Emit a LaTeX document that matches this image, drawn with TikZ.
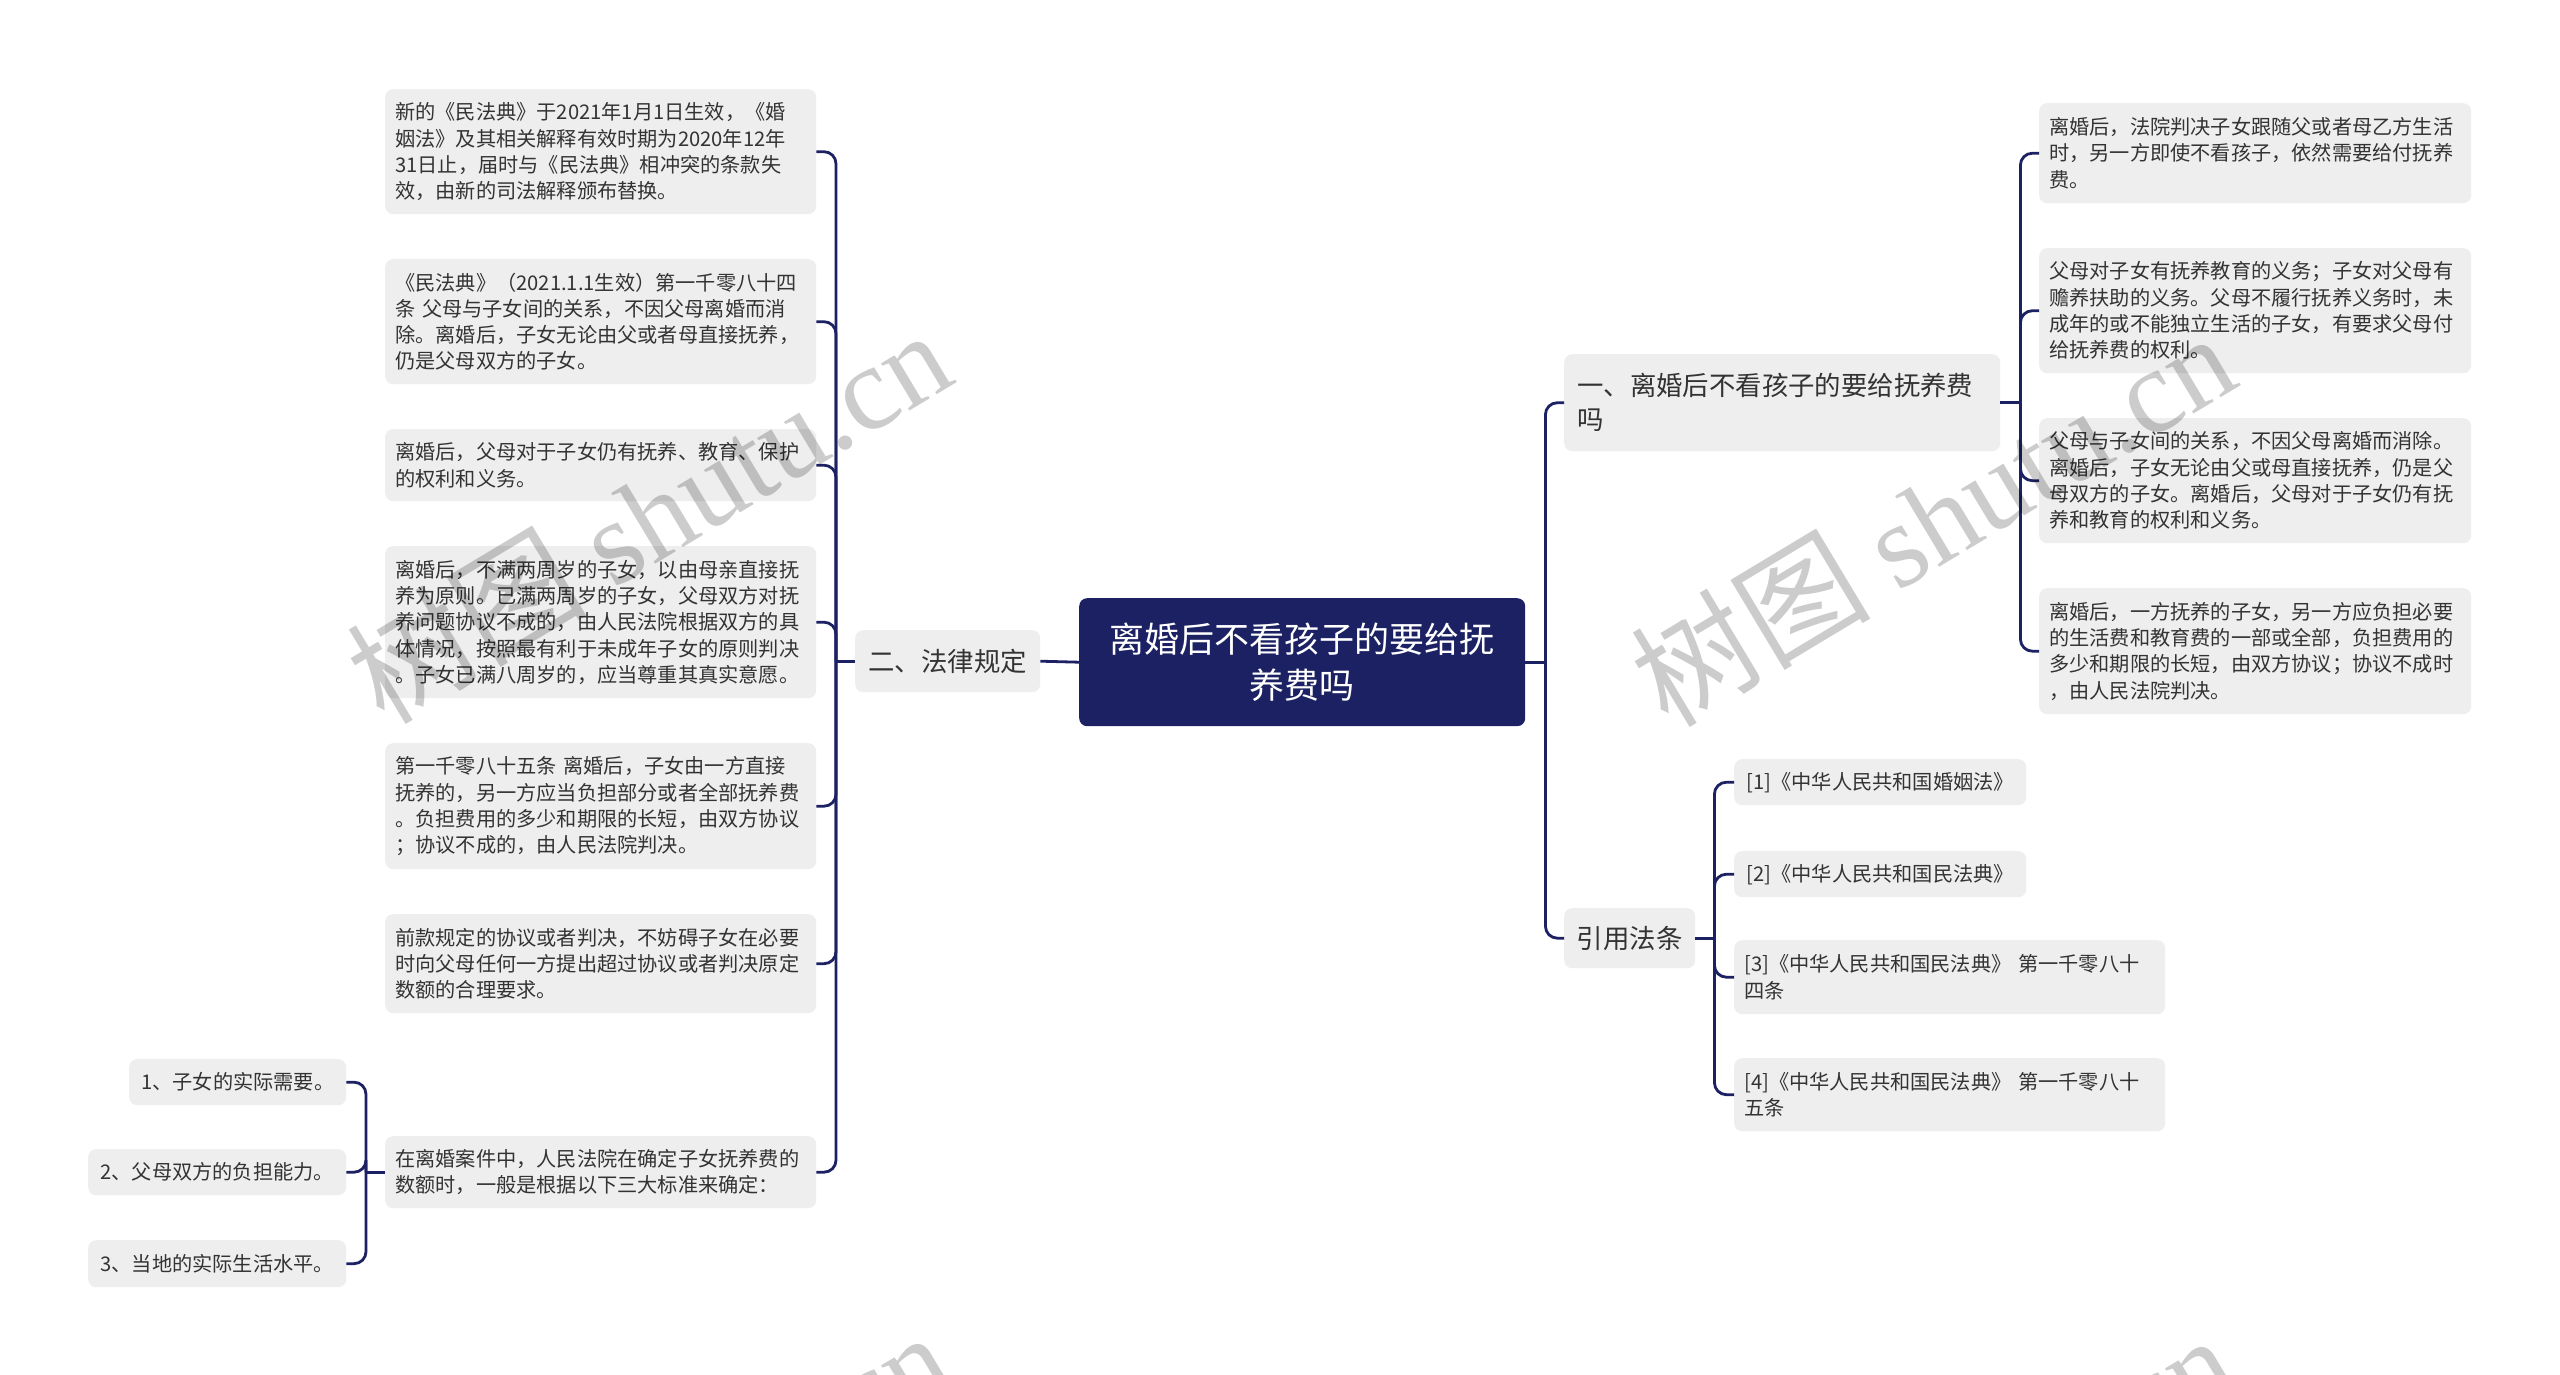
\documentclass[tikz,border=0pt]{standalone}
\usepackage{fontspec}
\setmainfont{Noto Sans CJK SC}
\newfontfamily\wmlatin{Liberation Serif}
\usetikzlibrary{calc}
\definecolor{navy}{HTML}{1B2162}
\definecolor{boxgray}{HTML}{EEEEEE}
\definecolor{txt}{HTML}{333333}
\tikzset{
 leaf/.style={fill=boxgray, rounded corners=8pt, inner xsep=10pt, inner ysep=0pt, align=left, text=txt, anchor=north west, font=\fontsize{20.2}{26.3}\selectfont},
 leafc/.style={leaf, align=center},
 mid/.style={fill=boxgray, rounded corners=8pt, inner xsep=13pt, inner ysep=0pt, align=left, text=txt, anchor=north west, font=\fontsize{26.4}{34}\selectfont},
 rootbox/.style={fill=navy, rounded corners=8pt, inner xsep=10pt, inner ysep=0pt, align=center, text=white, anchor=north west, font=\fontsize{35}{46}\selectfont},
 conn/.style={draw=navy, line width=2.8pt, rounded corners=12pt},
 wm/.style={rotate=31, text=black, text opacity=0.2, inner sep=0pt, font=\fontsize{120}{120}\selectfont}
}
\begin{document}
\begin{tikzpicture}[x=1pt,y=-1pt]
\fill[white] (0,0) rectangle (2560,1375);
\useasboundingbox (0,0) rectangle (2560,1375);

% root
\node[rootbox, text width=426pt, minimum height=128pt] (root) at (1079,598) {离婚后不看孩子的要给抚\\养费吗};

% left branch
\node[mid, minimum width=185pt, minimum height=62pt, align=center, inner xsep=4pt] (law) at (855,630) {二、法律规定};

\node[leaf, text width=411pt, minimum height=125pt] (l1) at (385,89) {新的《民法典》于2021年1月1日生效，《婚\\姻法》及其相关解释有效时期为2020年12年\\31日止，届时与《民法典》相冲突的条款失\\效，由新的司法解释颁布替换。};
\node[leaf, text width=411pt, minimum height=125pt] (l2) at (385,259) {《民法典》（2021.1.1生效）第一千零八十四\\条 父母与子女间的关系，不因父母离婚而消\\除。离婚后，子女无论由父或者母直接抚养，\\仍是父母双方的子女。};
\node[leaf, text width=411pt, minimum height=72pt] (l3) at (385,429) {离婚后，父母对于子女仍有抚养、教育、保护\\的权利和义务。};
\node[leaf, text width=411pt, minimum height=152pt] (l4) at (385,546) {离婚后，不满两周岁的子女，以由母亲直接抚\\养为原则。已满两周岁的子女，父母双方对抚\\养问题协议不成的，由人民法院根据双方的具\\体情况，按照最有利于未成年子女的原则判决\\。子女已满八周岁的，应当尊重其真实意愿。};
\node[leaf, text width=411pt, minimum height=126pt] (l5) at (385,743) {第一千零八十五条 离婚后，子女由一方直接\\抚养的，另一方应当负担部分或者全部抚养费\\。负担费用的多少和期限的长短，由双方协议\\；协议不成的，由人民法院判决。};
\node[leaf, text width=411pt, minimum height=99pt] (l6) at (385,914) {前款规定的协议或者判决，不妨碍子女在必要\\时向父母任何一方提出超过协议或者判决原定\\数额的合理要求。};
\node[leaf, text width=411pt, minimum height=72pt] (l7) at (385,1136) {在离婚案件中，人民法院在确定子女抚养费的\\数额时，一般是根据以下三大标准来确定：};

\node[leafc, inner xsep=2pt, minimum width=217pt, minimum height=46pt] (s1) at (129,1059) {1、子女的实际需要。};
\node[leafc, inner xsep=2pt, minimum width=258pt, minimum height=46pt] (s2) at (88,1149) {2、父母双方的负担能力。};
\node[leafc, inner xsep=2pt, minimum width=258pt, minimum height=47pt] (s3) at (88,1240) {3、当地的实际生活水平。};

% right branch
\node[mid, text width=410pt, minimum height=97pt] (q1) at (1564,354) {一、离婚后不看孩子的要给抚养费\\吗};
\node[mid, minimum width=131pt, minimum height=60pt, align=center, inner xsep=4pt] (cite) at (1564,908) {引用法条};

\node[leaf, text width=412pt, minimum height=100pt] (r1) at (2039,103) {离婚后，法院判决子女跟随父或者母乙方生活\\时，另一方即使不看孩子，依然需要给付抚养\\费。};
\node[leaf, text width=412pt, minimum height=125pt] (r2) at (2039,248) {父母对子女有抚养教育的义务；子女对父母有\\赡养扶助的义务。父母不履行抚养义务时，未\\成年的或不能独立生活的子女，有要求父母付\\给抚养费的权利。};
\node[leaf, text width=412pt, minimum height=125pt] (r3) at (2039,418) {父母与子女间的关系，不因父母离婚而消除。\\离婚后，子女无论由父或母直接抚养，仍是父\\母双方的子女。离婚后，父母对于子女仍有抚\\养和教育的权利和义务。};
\node[leaf, text width=412pt, minimum height=126pt] (r4) at (2039,588) {离婚后，一方抚养的子女，另一方应负担必要\\的生活费和教育费的一部或全部，负担费用的\\多少和期限的长短，由双方协议；协议不成时\\，由人民法院判决。};

\node[leafc, inner xsep=2pt, minimum width=292pt, minimum height=46pt] (f1) at (1734,759) {[1]《中华人民共和国婚姻法》};
\node[leafc, inner xsep=2pt, minimum width=292pt, minimum height=46pt] (f2) at (1734,851) {[2]《中华人民共和国民法典》};
\node[leaf, text width=411pt, minimum height=74pt] (f3) at (1734,940) {[3]《中华人民共和国民法典》 第一千零八十\\四条};
\node[leaf, text width=411pt, minimum height=73pt] (f4) at (1734,1058) {[4]《中华人民共和国民法典》 第一千零八十\\五条};

% connectors
\draw[conn] (root.west) -- (law.east);
\draw[conn] (law.west) -- ++(-19,0) coordinate (lawbus);
\foreach \n in {l1,l2,l3,l4,l5,l6,l7} \draw[conn] (lawbus) |- (\n.east);
\draw[conn] (l7.west) -- ++(-19,0) coordinate (l7bus);
\foreach \n in {s1,s2,s3} \draw[conn] (l7bus) |- (\n.east);

\draw[conn] (root.east) -- ++(20,0) coordinate (rbus);
\foreach \n in {q1,cite} \draw[conn] (rbus) |- (\n.west);
\draw[conn] (q1.east) -- ++(20,0) coordinate (qbus);
\foreach \n in {r1,r2,r3,r4} \draw[conn] (qbus) |- (\n.west);
\draw[conn] (cite.east) -- ++(19,0) coordinate (cbus);
\foreach \n in {f1,f2,f3,f4} \draw[conn] (cbus) |- (\n.west);

% watermarks
\begin{scope}
\clip (0,0) rectangle (2560,1375);
\node[wm] (wm1) at (648,515) {树图 {\wmlatin shutu.cn}};
\node[wm] (wm2) at (1932,518) {树图 {\wmlatin shutu.cn}};
\node[wm] (wm3) at (648,1517) {树图 {\wmlatin shutu.cn}};
\node[wm] (wm4) at (1932,1520) {树图 {\wmlatin shutu.cn}};
\end{scope}
\end{tikzpicture}
\end{document}
